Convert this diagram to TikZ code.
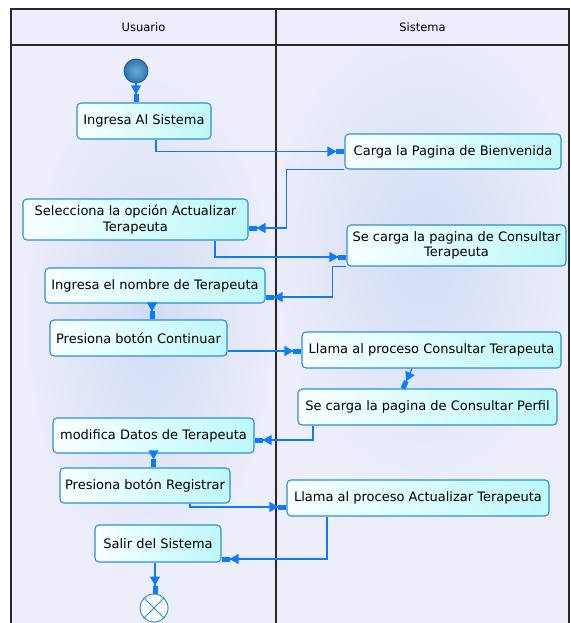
\documentclass[tikz,border=0pt]{standalone}
\usepackage{fontspec}
\setmainfont{DejaVu Sans}
\usetikzlibrary{arrows.meta,calc}
\definecolor{flowc}{RGB}{10,125,250}
\definecolor{boxb}{RGB}{40,145,215}
\definecolor{boxA}{RGB}{248,255,255}
\definecolor{boxB}{RGB}{190,248,250}
\definecolor{lanebg}{RGB}{238,238,251}
\definecolor{blob}{RGB}{208,220,244}
\definecolor{headbg}{RGB}{236,236,250}
\definecolor{framec}{RGB}{40,40,40}
\definecolor{startA}{RGB}{110,170,210}
\definecolor{startB}{RGB}{40,120,175}
\definecolor{startb}{RGB}{30,90,150}
\definecolor{endb}{RGB}{45,145,215}
\begin{document}
\begin{tikzpicture}[x=1pt,y=-1pt,
  act/.style={draw=boxb, line width=1.1pt, rounded corners=4pt, left color=boxA, right color=boxB,
    font=\fontsize{13}{15.5}\selectfont, align=center, inner sep=2pt},
  flow/.style={draw=flowc, line width=1.3pt,
    -{Triangle[length=9pt,width=10pt]Rectangle[length=8pt,width=5pt]}},
  lanetitle/.style={font=\fontsize{11.5}{13}\selectfont},
]
\useasboundingbox (0,0) rectangle (570,623);
% lanes background
\fill[lanebg] (11,45) rectangle (569,630);
\begin{scope}
  \clip (11,45) rectangle (276,623);
  \shade[inner color=blob, outer color=lanebg] (150,320) ellipse [x radius=130pt, y radius=260pt];
\end{scope}
\begin{scope}
  \clip (276,45) rectangle (569,623);
  \shade[inner color=blob, outer color=lanebg] (425,250) ellipse [x radius=160pt, y radius=240pt];
\end{scope}
% header
\fill[headbg] (11,9) rectangle (569,45);
\node[lanetitle] (hu) at (143.5,27) {Usuario};
\node[lanetitle] (hs) at (422.5,27) {Sistema};
% frame
\draw[framec, line width=1.1pt] (11,624) -- (11,9) -- (569,9) -- (569,624);
\draw[framec, line width=1.1pt] (11,45) -- (569,45);
\draw[framec, line width=1.1pt] (276,9) -- (276,624);
% nodes
\node[circle, draw=startb, line width=0.8pt, inner color=startA, outer color=startB, minimum size=24pt, inner sep=0pt] (start) at (136,71) {};
\node[act, minimum width=134pt, minimum height=36pt] (n1) at (144,121) {Ingresa Al Sistema};
\node[act, minimum width=216pt, minimum height=35pt] (n2) at (453,151.5) {Carga la Pagina de Bienvenida};
\node[act, minimum width=225pt, minimum height=41pt] (n3) at (135.5,219.5) {Selecciona la opción Actualizar\\Terapeuta};
\node[act, minimum width=219pt, minimum height=41pt] (n4) at (456.5,245.5) {Se carga la pagina de Consultar\\Terapeuta};
\node[act, minimum width=220pt, minimum height=35pt] (n5) at (155,285.5) {Ingresa el nombre de Terapeuta};
\node[act, minimum width=177pt, minimum height=36pt] (n6) at (138.5,338) {Presiona botón Continuar};
\node[act, minimum width=259pt, minimum height=36pt] (n7) at (431.5,350) {Llama al proceso Consultar Terapeuta};
\node[act, minimum width=259pt, minimum height=36pt] (n8) at (427.5,407) {Se carga la pagina de Consultar Perfil};
\node[act, minimum width=201pt, minimum height=35pt] (n9) at (153.5,435.5) {modifica Datos de Terapeuta};
\node[act, minimum width=170pt, minimum height=35pt] (n10) at (145,485.5) {Presiona botón Registrar};
\node[act, minimum width=262pt, minimum height=36pt] (n11) at (418,498) {Llama al proceso Actualizar Terapeuta};
\node[act, minimum width=126pt, minimum height=37pt] (n12) at (158,543.5) {Salir del Sistema};
\node[circle, draw=endb, line width=1pt, fill=white, minimum size=28pt, inner sep=0pt] (end) at (154,608) {};
\draw[endb, line width=1pt] (end.north east) -- (end.south west) (end.north west) -- (end.south east);
% connectors
\draw[flow] (start.south) -- (start.south |- n1.north);
\draw[flow] ([xshift=12pt]n1.south) |- (n2.west);
\draw[flow] (n2.south west) -- ++(-58,0) |- ([yshift=-8.5pt]n3.east);
\draw[flow] ([xshift=79.5pt]n3.south) |- ([yshift=-11.5pt]n4.west);
\draw[flow] (n4.south west) -- ++(-14,0) |- ([yshift=-11.5pt]n5.east);
\draw[flow] ([xshift=-3pt]n5.south) -- ([xshift=-3pt]n5.south |- n6.north);
\draw[flow] ([yshift=-13pt]n6.east) -- ([yshift=-13pt]n6.east -| n7.west);
\draw[flow] ([xshift=-19.5pt]n7.south) -- ([xshift=-24.5pt]n8.north);
\draw[flow] ([xshift=-114.5pt]n8.south) |- ([yshift=-4.5pt]n9.east);
\draw[flow] (n9.south) -- (n9.south |- n10.north);
\draw[flow] ([xshift=45pt]n10.south) |- ([yshift=-9pt]n11.west);
\draw[flow] ([xshift=-91pt]n11.south) |- ([yshift=-15.5pt]n12.east);
\draw[flow] ([xshift=-3pt]n12.south) -- ([xshift=-3pt]n12.south |- end.north);
\end{tikzpicture}
\end{document}
